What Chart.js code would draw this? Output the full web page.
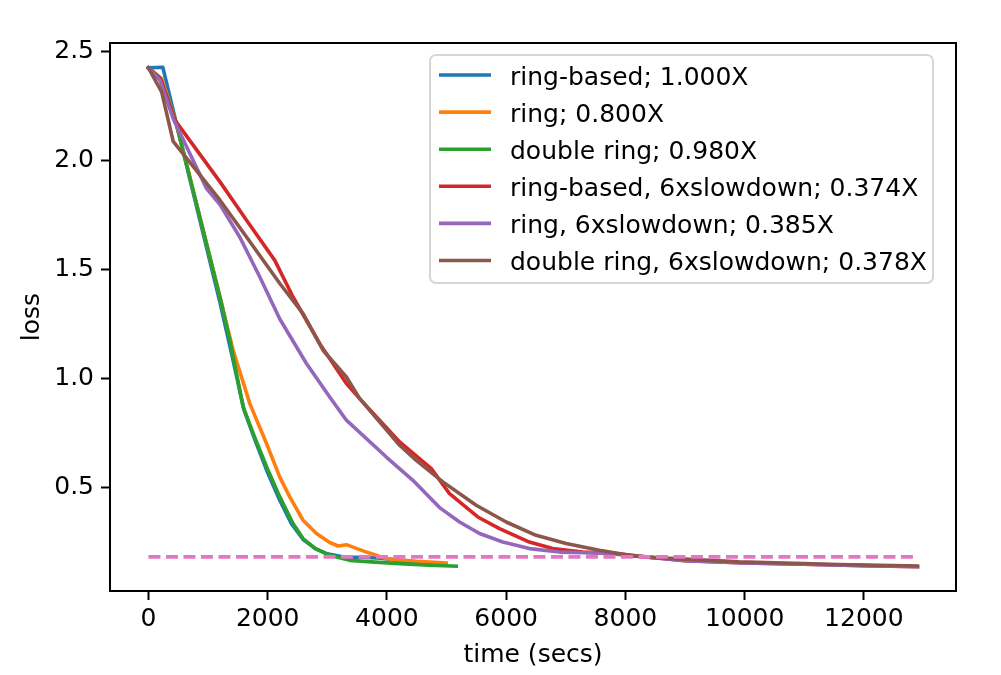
<!DOCTYPE html>
<html>
<head>
<meta charset="utf-8">
<script src="https://cdn.jsdelivr.net/npm/chart.js@4"></script>
<style>
  html, body { margin: 0; padding: 0; background: #fff; }
  canvas { display: block; }
</style>
</head>
<body>
<canvas id="lossChart" width="1001" height="675"></canvas>
<script>
// ===== DATA =====
const ringBasedT    = [0, 240, 700, 1200, 1400, 1600, 1800, 2000, 2200, 2400, 2600, 2800, 3000, 3300, 3600, 3900, 4300, 4900];
const ringBasedLoss = [2.427, 2.43, 1.91, 1.35, 1.11, 0.86, 0.71, 0.57, 0.445, 0.335, 0.262, 0.222, 0.198, 0.182, 0.182, 0.178, 0.163, 0.15];

const ringT    = [0, 221, 444, 667, 1226, 1420, 1700, 1980, 2203, 2370, 2593, 2818, 3040, 3180, 3320, 3655, 3990, 4493, 4995];
const ringLoss = [2.427, 2.378, 2.194, 1.957, 1.347, 1.132, 0.887, 0.704, 0.55, 0.459, 0.352, 0.291, 0.25, 0.234, 0.24, 0.206, 0.176, 0.164, 0.156];

const doubleRingT    = [0, 200, 444, 800, 1226, 1365, 1588, 1756, 2007, 2203, 2425, 2593, 2800, 3040, 3375, 3800, 4213, 4700, 5163];
const doubleRingLoss = [2.427, 2.378, 2.194, 1.81, 1.346, 1.178, 0.872, 0.75, 0.581, 0.459, 0.337, 0.268, 0.222, 0.191, 0.168, 0.16, 0.153, 0.146, 0.141];

const ringBasedSlowT    = [0, 200, 444, 1200, 1645, 2119, 2425, 2873, 3320, 3543, 4213, 4744, 5050, 5524, 5888, 6390, 6780, 7283, 7842, 8300, 9000, 10000, 11000, 12000, 12900];
const ringBasedSlowLoss = [2.427, 2.378, 2.187, 1.904, 1.728, 1.544, 1.376, 1.162, 0.979, 0.91, 0.711, 0.589, 0.474, 0.367, 0.314, 0.252, 0.222, 0.206, 0.199, 0.185, 0.166, 0.156, 0.15, 0.144, 0.139];

const ringSlowT    = [0, 193, 415, 975, 1200, 1533, 1868, 2203, 2650, 3040, 3320, 3990, 4435, 4883, 5218, 5553, 5943, 6390, 6893, 7563, 8200, 9000, 10000, 11000, 12000, 12900];
const ringSlowLoss = [2.427, 2.37, 2.194, 1.873, 1.8, 1.65, 1.468, 1.275, 1.071, 0.917, 0.811, 0.642, 0.535, 0.41, 0.344, 0.291, 0.252, 0.222, 0.206, 0.202, 0.188, 0.166, 0.156, 0.15, 0.144, 0.139];

const doubleRingSlowT    = [0, 221, 415, 1200, 1645, 2203, 2593, 2928, 3320, 3543, 4213, 4492, 4938, 5497, 6000, 6502, 7005, 7563, 8065, 8345, 9908, 11583, 12895];
const doubleRingSlowLoss = [2.427, 2.317, 2.09, 1.82, 1.651, 1.438, 1.30, 1.132, 1.009, 0.91, 0.696, 0.627, 0.528, 0.421, 0.344, 0.283, 0.245, 0.214, 0.191, 0.183, 0.161, 0.149, 0.142];

const targetT    = [0, 12900];
const targetLoss = [0.184, 0.184];

const seriesLabels = [
    'ring-based; 1.000X',
    'ring; 0.800X',
    'double ring; 0.980X',
    'ring-based, 6xslowdown; 0.374X',
    'ring, 6xslowdown; 0.385X',
    'double ring, 6xslowdown; 0.378X'
];
const seriesColors = ['#1f77b4', '#ff7f0e', '#2ca02c', '#d62728', '#9467bd', '#8c564b'];
const targetColor = '#e377c2';

const xTicks = [0, 2000, 4000, 6000, 8000, 10000, 12000];
const yTicks = [0.5, 1.0, 1.5, 2.0, 2.5];

const FONT = 'DejaVu Sans';
const FONT_SIZE = 25;
const LINE_W = 3.6;

function toPoints(ts, vs) {
    return ts.map((t, i) => ({ x: t, y: vs[i] }));
}

const seriesData = [
    toPoints(ringBasedT, ringBasedLoss),
    toPoints(ringT, ringLoss),
    toPoints(doubleRingT, doubleRingLoss),
    toPoints(ringBasedSlowT, ringBasedSlowLoss),
    toPoints(ringSlowT, ringSlowLoss),
    toPoints(doubleRingSlowT, doubleRingSlowLoss)
];

// matplotlib draws later lines on top -> give later datasets a lower order
const datasets = seriesData.map((d, i) => ({
    label: seriesLabels[i],
    data: d,
    borderColor: seriesColors[i],
    backgroundColor: seriesColors[i],
    borderWidth: LINE_W,
    borderJoinStyle: 'round',
    borderCapStyle: 'square',
    pointRadius: 0,
    tension: 0,
    fill: false,
    order: 20 - i
}));
datasets.push({
    label: 'target',
    data: toPoints(targetT, targetLoss),
    borderColor: targetColor,
    borderWidth: LINE_W,
    borderDash: [12, 5.5],
    borderCapStyle: 'butt',
    pointRadius: 0,
    fill: false,
    order: 1
});

// ===== frame + legend, matplotlib style =====
const framePlugin = {
    id: 'frame',
    afterDraw(chart) {
        const { ctx, chartArea: a } = chart;
        ctx.save();
        ctx.strokeStyle = '#000';
        ctx.lineWidth = 2;
        ctx.strokeRect(a.left, a.top, a.right - a.left, a.bottom - a.top);

        // legend box
        const bx = 430, by = 55, bw = 503, bh = 228, r = 6;
        ctx.beginPath();
        ctx.moveTo(bx + r, by);
        ctx.arcTo(bx + bw, by, bx + bw, by + bh, r);
        ctx.arcTo(bx + bw, by + bh, bx, by + bh, r);
        ctx.arcTo(bx, by + bh, bx, by, r);
        ctx.arcTo(bx, by, bx + bw, by, r);
        ctx.closePath();
        ctx.fillStyle = 'rgba(255,255,255,0.8)';
        ctx.fill();
        ctx.strokeStyle = '#d6d6d6';
        ctx.lineWidth = 2;
        ctx.stroke();

        ctx.font = FONT_SIZE + 'px "' + FONT + '"';
        ctx.textAlign = 'left';
        ctx.textBaseline = 'alphabetic';
        seriesLabels.forEach((lab, i) => {
            const y = 75 + i * 37.1;
            ctx.beginPath();
            ctx.strokeStyle = seriesColors[i];
            ctx.lineWidth = LINE_W;
            ctx.moveTo(439, y);
            ctx.lineTo(491, y);
            ctx.stroke();
            ctx.fillStyle = '#000';
            ctx.fillText(lab, 510, y + 9.5);
        });
        ctx.restore();
    }
};

const ctx = document.getElementById('lossChart').getContext('2d');
new Chart(ctx, {
    type: 'line',
    data: { datasets: datasets },
    options: {
        responsive: false,
        animation: false,
        devicePixelRatio: 1,
        layout: { padding: { top: 43, right: 45, left: 0, bottom: 0 } },
        plugins: {
            legend: { display: false },
            tooltip: { enabled: false }
        },
        scales: {
            x: {
                type: 'linear',
                min: -645,
                max: 13545,
                afterFit: s => { s.height = 84; },
                afterBuildTicks: s => { s.ticks = xTicks.map(v => ({ value: v })); },
                ticks: {
                    color: '#000',
                    font: { family: FONT, size: FONT_SIZE },
                    padding: 4,
                    maxRotation: 0,
                    autoSkip: false,
                    callback: v => String(v)
                },
                grid: {
                    drawOnChartArea: false,
                    drawTicks: true,
                    tickLength: 9,
                    tickWidth: 2,
                    tickColor: '#000'
                },
                border: { display: true, color: '#000', width: 2 },
                title: {
                    display: true,
                    text: 'time (secs)',
                    color: '#000',
                    font: { family: FONT, size: FONT_SIZE },
                    padding: { top: 0, bottom: 5 }
                }
            },
            y: {
                type: 'linear',
                min: 0.0275,
                max: 2.541,
                afterFit: s => { s.width = 110; },
                afterBuildTicks: s => { s.ticks = yTicks.map(v => ({ value: v })); },
                ticks: {
                    color: '#000',
                    font: { family: FONT, size: FONT_SIZE },
                    padding: 7,
                    autoSkip: false,
                    callback: v => v.toFixed(1)
                },
                grid: {
                    drawOnChartArea: false,
                    drawTicks: true,
                    tickLength: 9,
                    tickWidth: 2,
                    tickColor: '#000'
                },
                border: { display: true, color: '#000', width: 2 },
                title: {
                    display: true,
                    text: 'loss',
                    color: '#000',
                    font: { family: FONT, size: FONT_SIZE },
                    padding: { top: 17, bottom: 0 }
                }
            }
        }
    },
    plugins: [framePlugin]
});
</script>
</body>
</html>
